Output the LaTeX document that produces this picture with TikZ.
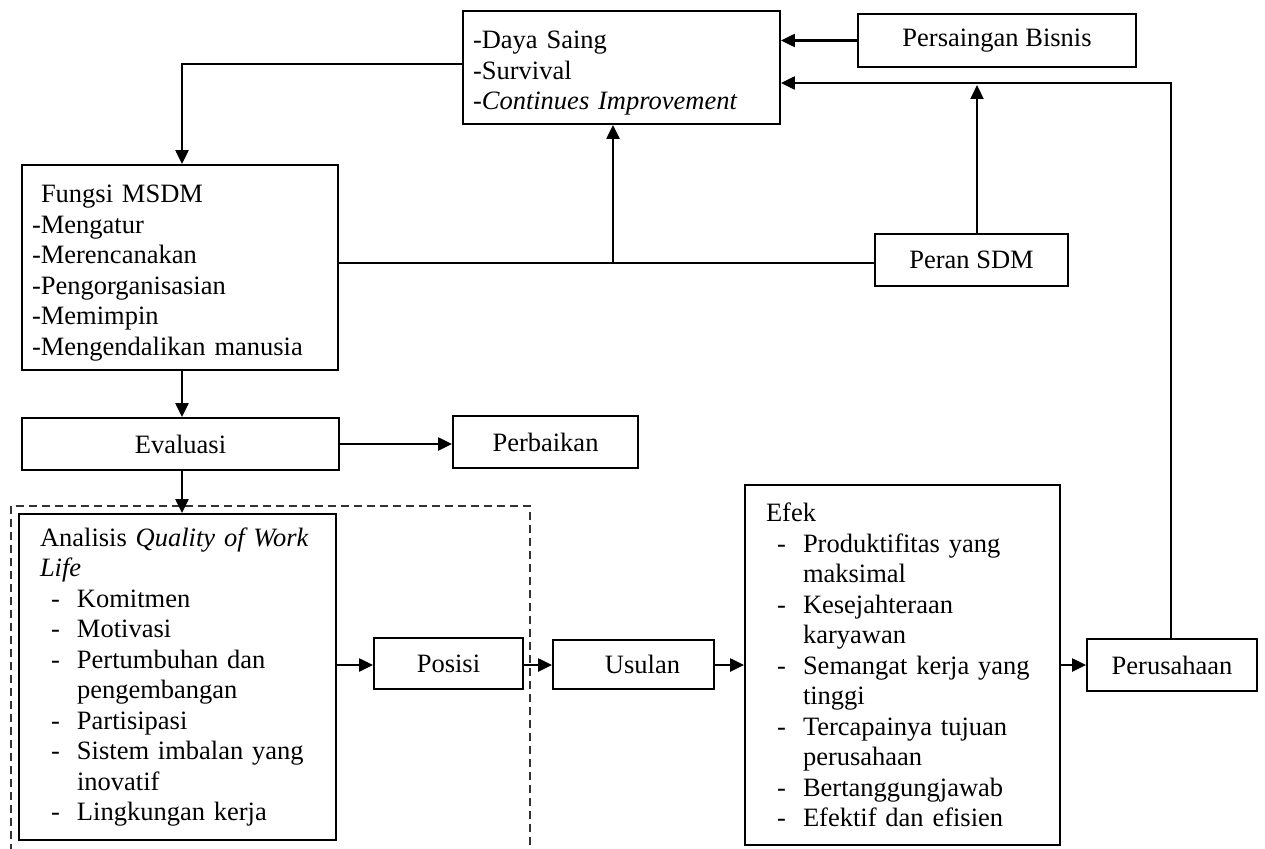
\documentclass[tikz,border=0pt]{standalone}
\usepackage{fontspec}
\setmainfont{Liberation Serif}
\usetikzlibrary{arrows.meta}
\newcommand\mainfs{\fontsize{26.5}{30.5}\selectfont}
\newcommand\litem[1]{\makebox[37pt][l]{\hspace{11pt}-}#1}
\newcommand\lcont[1]{\hspace*{37pt}#1}
\begin{document}
\begin{tikzpicture}[x=1pt,y=-1pt,
  box/.style={draw, line width=1.8pt, inner sep=0pt, font=\mainfs},
  listbox/.style={box, align=left, inner xsep=#1},
  conn/.style={line width=2.2pt},
  arr/.style={conn, -{Triangle[length=14pt,width=13pt]}},
  qwlframe/.style={line width=1.5pt, draw=black!80, dash pattern=on 8pt off 5pt}
]
\useasboundingbox (0,0) rectangle (1265,848);

% nodes
\node[listbox=10pt, text width=297pt, minimum height=113pt] (top) at (621.5,67.5)
  {\rule{0pt}{29pt}-Daya Saing\\-Survival\\-\textit{Continues Improvement}};
\node[box, minimum width=278pt, minimum height=53pt] (persaingan) at (997,40.5) {Persaingan Bisnis};
\node[box, minimum width=193pt, minimum height=52pt] (peran) at (971.5,260) {Peran SDM};
\node[listbox=10pt, text width=296pt, minimum height=205pt] (fungsi) at (180,267.5)
  {\rule{0pt}{29pt}\hspace*{9pt}Fungsi MSDM\\-Mengatur\\-Merencanakan\\-Pengorganisasian\\-Memimpin\\-Mengendalikan manusia};
\node[box, minimum width=317pt, minimum height=52pt] (evaluasi) at (180.5,444) {Evaluasi};
\node[box, minimum width=185pt, minimum height=52pt] (perbaikan) at (545.5,442) {Perbaikan};
\node[listbox=21pt, text width=275pt, minimum height=326pt] (analisis) at (177.5,677)
  {Analisis \textit{Quality of Work}\\\textit{Life}\\\litem{Komitmen}\\\litem{Motivasi}\\\litem{Pertumbuhan dan}\\\lcont{pengembangan}\\\litem{Partisipasi}\\\litem{Sistem imbalan yang}\\\lcont{inovatif}\\\litem{Lingkungan kerja}};
\node[box, minimum width=149pt, minimum height=51pt] (posisi) at (448.5,663.5) {Posisi};
\node[box, minimum width=161pt, minimum height=49pt] (usulan) at (633.5,664.5) {\hspace*{18pt}Usulan};
\node[listbox=21pt, text width=273pt, minimum height=360pt] (efek) at (902.5,665)
  {Efek\\\litem{Produktifitas yang}\\\lcont{maksimal}\\\litem{Kesejahteraan}\\\lcont{karyawan}\\\litem{Semangat kerja yang}\\\lcont{tinggi}\\\litem{Tercapainya tujuan}\\\lcont{perusahaan}\\\litem{Bertanggungjawab}\\\litem{Efektif dan efisien}};
\node[box, minimum width=170pt, minimum height=52pt] (perusahaan) at (1172,665) {Perusahaan};

% dashed frame around the QWL analysis
\draw[qwlframe] (11,852) -- (11,506) -- (530,506) -- (530,852);

% helper coordinates
\coordinate (cr) at (1171,83);
\coordinate (pj) at (977,85);
\coordinate (mj) at (613,263);
\coordinate (tl) at (182,64);
\coordinate (hy) at (0,665);

% connectors
\draw[arr] (persaingan.west) -- (persaingan.west -| top.east);
\draw[arr] (perusahaan.north -| cr) -- (cr) -- (cr -| top.east);
\draw[arr] (peran.north -| pj) -- (pj);
\draw[conn] (fungsi.east |- mj) -- (mj -| peran.west);
\draw[arr] (mj) -- (mj |- top.south);
\draw[arr] (tl -| top.west) -- (tl) -- (tl |- fungsi.north);
\draw[arr] (fungsi.south -| tl) -- (tl |- evaluasi.north);
\draw[arr] (evaluasi.east) -- (evaluasi.east -| perbaikan.west);
\draw[arr] (evaluasi.south -| tl) -- (tl |- analisis.north);
\draw[arr] (analisis.east |- hy) -- (hy -| posisi.west);
\draw[arr] (posisi.east |- hy) -- (hy -| usulan.west);
\draw[arr] (usulan.east |- hy) -- (hy -| efek.west);
\draw[arr] (efek.east |- hy) -- (hy -| perusahaan.west);
\end{tikzpicture}
\end{document}
